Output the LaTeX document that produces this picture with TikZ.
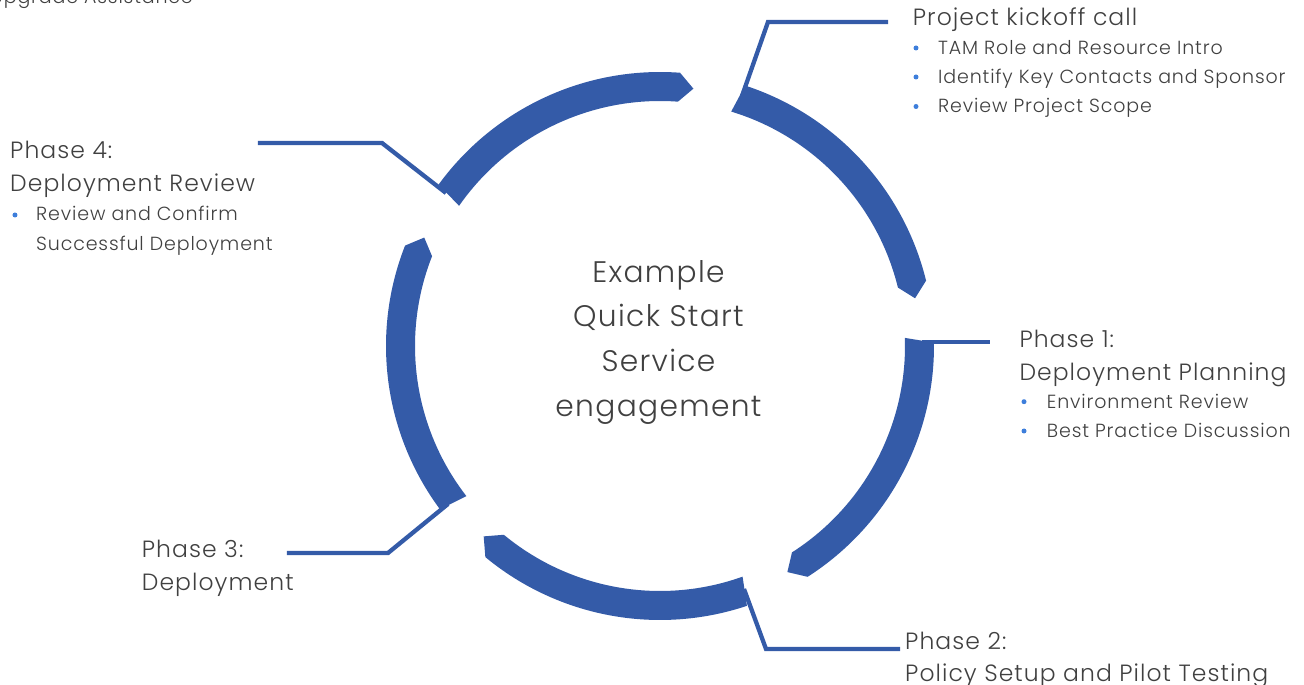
\documentclass[tikz,border=0pt]{standalone}
\usepackage{fontspec}
\setmainfont{Poppins}[UprightFont=* Light,LetterSpace=4.5]
\definecolor{ringblue}{HTML}{345BA8}
\definecolor{dotblue}{HTML}{3D7EDB}
\definecolor{textgray}{HTML}{404040}
\begin{document}
\begin{tikzpicture}[x=1pt,y=1pt]
\tikzset{
  heading/.style={anchor=base west,inner sep=0pt,text=textgray,
    font=\fontsize{23.5}{28}\selectfont},
  item/.style={anchor=base west,inner sep=0pt,text=textgray,
    font=\fontsize{19}{23}\selectfont},
  dot/.style={circle,fill=dotblue,inner sep=0pt,minimum size=5pt},
  leader/.style={draw=ringblue,line width=4.3pt}
}
\useasboundingbox (-660,-339) rectangle (644,346);
\clip (-660,-339) rectangle (644,346);

\foreach \t in {72.5,1.3,-70.9,-142.8,-215.5}
  \fill[ringblue] ({\t-0.6}:274) arc[start angle=\t-0.6,end angle=\t-58.7,radius=274]
    -- ({\t-61.9}:259.5) -- ({\t-58.7}:245)
    arc[start angle=\t-58.7,end angle=\t+0.6,radius=245] -- cycle;

\node[align=center,text=textgray,font=\fontsize{29.7}{44.8}\selectfont]
  (engage) at (-1.5,3.7) {Example\\Quick Start\\Service\\engagement};

\node[item,anchor=base east] (upgrade) at (-467,342.5) {Upgrade Assistance};

\coordinate (kick-in) at (82,250);
\coordinate (kick-bend) at (108,324);
\coordinate (kick-end) at (228,324);
\draw[leader] (kick-in) -- (kick-bend) -- (kick-end);
\node[heading] (kickoff) at (252.7,320) {Project kickoff call};
\node[dot] (kick-dot1) at (256,298) {};
\node[dot] (kick-dot2) at (256,269) {};
\node[dot] (kick-dot3) at (256,239.5) {};
\node[item] (kick-tam) at (278,291) {TAM Role and Resource Intro};
\node[item] (kick-contacts) at (278,262) {Identify Key Contacts and Sponsor};
\node[item] (kick-scope) at (278,233) {Review Project Scope};

\coordinate (plan-in) at (262,3.8);
\coordinate (plan-end) at (330,3.8);
\draw[leader] (plan-in) -- (plan-end);
\node[heading] (plan) at (359.3,-1.3) {Phase 1:};
\node[heading] (plan-title) at (359.3,-35) {Deployment Planning};
\node[dot] (plan-dot1) at (364,-55.7) {};
\node[dot] (plan-dot2) at (364,-85) {};
\node[item] (plan-env) at (386.7,-62.3) {Environment Review};
\node[item] (plan-best) at (386.7,-91.3) {Best Practice Discussion};

\coordinate (pilot-in) at (84,-243);
\coordinate (pilot-bend) at (106,-303);
\coordinate (pilot-end) at (240,-303);
\draw[leader] (pilot-in) -- (pilot-bend) -- (pilot-end);
\node[heading] (pilot) at (245,-303) {Phase 2:};
\node[heading] (pilot-title) at (245,-335) {Policy Setup and Pilot Testing};

\coordinate (deploy-in) at (-212,-158);
\coordinate (deploy-bend) at (-272,-207);
\coordinate (deploy-end) at (-373,-207);
\draw[leader] (deploy-in) -- (deploy-bend) -- (deploy-end);
\node[heading] (deploy) at (-518.3,-211.3) {Phase 3:};
\node[heading] (deploy-title) at (-518.3,-244) {Deployment};

\coordinate (review-in) at (-214,153);
\coordinate (review-bend) at (-278,203);
\coordinate (review-end) at (-402,203);
\draw[leader] (review-in) -- (review-bend) -- (review-end);
\node[heading] (review) at (-650,187.7) {Phase 4:};
\node[heading] (review-title) at (-650,154.3) {Deployment Review};
\node[dot] (review-dot) at (-645,131) {};
\node[item] (review-confirm) at (-624,125.3) {Review and Confirm};
\node[item] (review-success) at (-624,95.3) {Successful Deployment};
\end{tikzpicture}
\end{document}
